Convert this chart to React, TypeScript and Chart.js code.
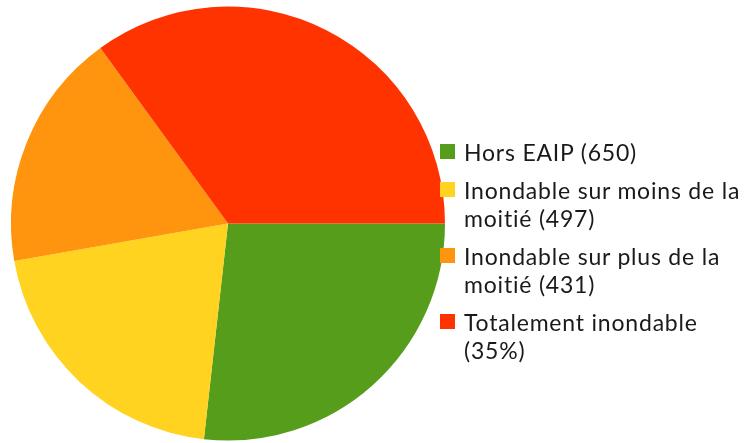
import React, { useEffect, useRef } from "react";
import { Chart, registerables } from "chart.js";

Chart.register(...registerables);

const categories = [
  "Hors EAIP",
  "Inondable sur moins de la moitié",
  "Inondable sur plus de la moitié",
  "Totalement inondable",
];
const values = [650, 497, 431, 850];
const colors = ["#579d1c", "#ffd320", "#ff950e", "#ff3300"];
const legendLines = [
  ["Hors EAIP (650)"],
  ["Inondable sur moins de la", "moitié (497)"],
  ["Inondable sur plus de la", "moitié (431)"],
  ["Totalement inondable", "(35%)"],
];

export default function App() {
  const ref = useRef<HTMLCanvasElement | null>(null);
  useEffect(() => {
    document.body.style.margin = "0";
    const chart = new Chart(ref.current!, {
      type: "pie",
      data: {
        labels: categories,
        datasets: [
          {
            data: values,
            backgroundColor: colors,
            borderWidth: 0,
          },
        ],
      },
      options: {
        responsive: false,
        animation: false,
        rotation: 90,
        layout: { padding: { top: 6, bottom: 2, left: 11, right: 11 } },
        plugins: { legend: { display: false }, tooltip: { enabled: false } },
      },
    });
    return () => chart.destroy();
  }, []);
  return (
    <div style={{ position: "relative", width: 753, height: 443, background: "#fff" }}>
      <canvas ref={ref} width={456} height={443} style={{ position: "absolute", left: 0, top: 0 }} />
      <div
        style={{
          position: "absolute",
          left: 440,
          top: 138,
          fontFamily: "Lato, sans-serif",
          fontSize: 23,
          letterSpacing: "0.8px",
          lineHeight: "28px",
          color: "#1a1a1a",
        }}
      >
        {legendLines.map((lines, i) => (
          <div key={i} style={{ display: "flex", alignItems: "flex-start", marginBottom: 10 }}>
            <div
              style={{
                width: 15,
                height: 15,
                background: colors[i],
                marginTop: 6,
                marginRight: 9,
                flex: "none",
              }}
            />
            <div style={{ whiteSpace: "nowrap" }}>
              {lines.map((l, j) => (
                <div key={j}>{l}</div>
              ))}
            </div>
          </div>
        ))}
      </div>
    </div>
  );
}
